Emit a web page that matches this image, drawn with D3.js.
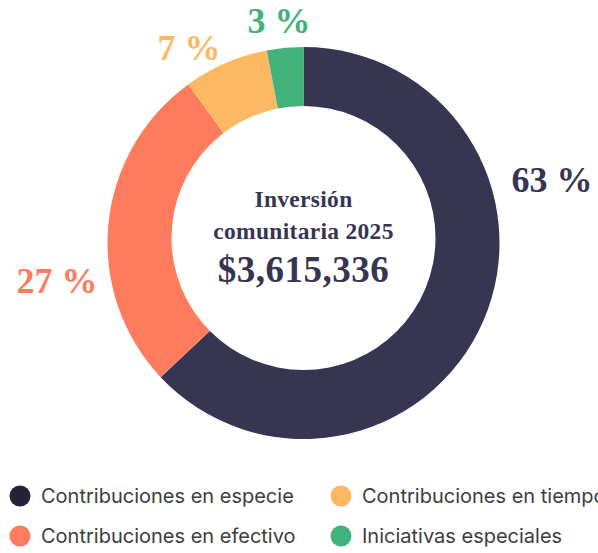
<!DOCTYPE html>
<html>
<head>
<meta charset="utf-8">
<script src="https://cdn.jsdelivr.net/npm/d3@7"></script>
<style>
  body { margin: 0; background: #fff; }
  svg { display: block; }
</style>
</head>
<body>
<svg id="chart" width="598" height="553"></svg>
<script>
// chart data
const categories = ["Contribuciones en especie", "Contribuciones en efectivo", "Contribuciones en tiempo", "Iniciativas especiales"];
const values = [63, 27, 7, 3];
const labels = ["63 %", "27 %", "7 %", "3 %"];
const colors = ["#363653", "#fe7b5d", "#fdb962", "#42b27b"];
const legendColors = ["#23233a", "#fe7b5d", "#fdb962", "#42b27b"];
const titleLines = ["Inversión", "comunitaria 2025"];
const total = "$3,615,336";

const svg = d3.select("#chart");

// donut geometry
const cx = 303.5, cy = 243;
const outerR = 196;
const holeR = 132;

const pie = d3.pie().sort(null).value(d => d);
const arc = d3.arc().innerRadius(0).outerRadius(outerR);

const g = svg.append("g").attr("transform", `translate(${cx},${cy})`);

g.selectAll("path")
  .data(pie(values))
  .enter()
  .append("path")
  .attr("d", arc)
  .attr("fill", (d, i) => colors[i]);

// white hole (sits a little above the ring centre, as in the original)
g.append("circle")
  .attr("cx", 0)
  .attr("cy", -5)
  .attr("r", holeR)
  .attr("fill", "#fff");

// centre text
const serif = "'Liberation Serif', 'DejaVu Serif', serif";
g.selectAll("text.title")
  .data(titleLines)
  .enter()
  .append("text")
  .attr("class", "title")
  .attr("x", 0)
  .attr("y", (d, i) => -36 + i * 32)
  .attr("text-anchor", "middle")
  .attr("font-family", serif).attr("font-weight", "bold")
  .attr("font-size", 23.5).attr("fill", "#363653")
  .attr("letter-spacing", 0.3)
  .text(d => d);
g.append("text")
  .attr("x", 0).attr("y", 39)
  .attr("text-anchor", "middle")
  .attr("font-family", serif).attr("font-weight", "bold")
  .attr("font-size", 37).attr("fill", "#363653")
  .attr("letter-spacing", 0.5)
  .text(total);

// percentage labels, placed by hand around the ring
const labelPos = [
  { x: 552, y: 192 },
  { x: 57, y: 293 },
  { x: 189, y: 60 },
  { x: 279, y: 33 }
];
svg.selectAll("text.pct")
  .data(labels)
  .enter()
  .append("text")
  .attr("class", "pct")
  .attr("x", (d, i) => labelPos[i].x)
  .attr("y", (d, i) => labelPos[i].y)
  .attr("text-anchor", "middle")
  .attr("font-family", serif).attr("font-weight", "bold")
  .attr("font-size", 36)
  .attr("fill", (d, i) => colors[i])
  .text(d => d);

// legend, two columns
const legendCol = [20, 341];
const legendRow = [496, 536];
const legend = svg.selectAll("g.legend")
  .data(categories)
  .enter()
  .append("g")
  .attr("class", "legend")
  .attr("transform", (d, i) => `translate(${legendCol[Math.floor(i / 2)]},${legendRow[i % 2]})`);

legend.append("circle")
  .attr("r", 10.5)
  .attr("fill", (d, i) => legendColors[i]);

legend.append("text")
  .attr("x", 21)
  .attr("y", 7)
  .attr("font-family", "Inter, 'Noto Sans', sans-serif")
  .attr("font-size", 20)
  .attr("fill", "#3d3d3d")
  .text(d => d);
</script>
</body>
</html>
